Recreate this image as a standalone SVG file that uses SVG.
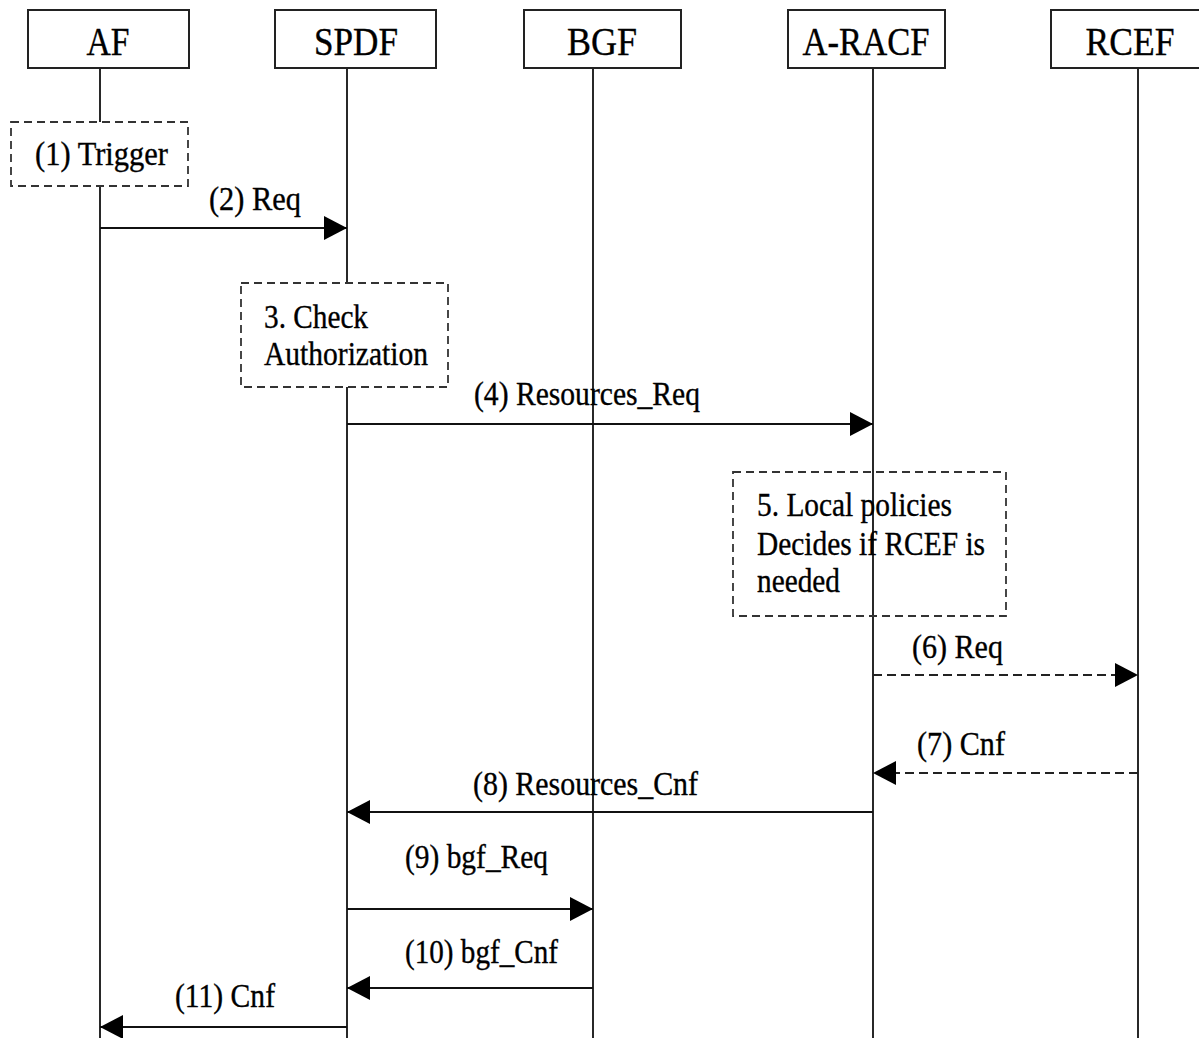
<svg xmlns="http://www.w3.org/2000/svg" width="1199" height="1038" viewBox="0 0 1199 1038">
<style>
text{font-family:"Liberation Serif","Times New Roman",serif;fill:#000;stroke:#000;stroke-width:0.35}
.title{font-size:39px;text-anchor:middle}
.lbl{font-size:33px}
.box{fill:#fff;stroke:#222;stroke-width:2}
.life{stroke:#111;stroke-width:1.8;fill:none}
.note{fill:#fff;stroke:#333;stroke-width:1.8;stroke-dasharray:8 5}
.note2{fill:none;stroke:#333;stroke-width:1.8;stroke-dasharray:8 5}
.msg{stroke:#111;stroke-width:2;fill:none}
.dash{stroke:#222;stroke-width:2.2;fill:none;stroke-dasharray:9 5}
</style>
<defs>
<marker id="ah" markerUnits="userSpaceOnUse" markerWidth="24" markerHeight="24" viewBox="0 0 24 24" refX="23" refY="12" orient="auto">
<path d="M0,0 L23,12 L0,24 Z" fill="#000"/>
</marker>
</defs>
<g id="lifelines">
<line class="life" x1="100" y1="68" x2="100" y2="1038"/>
<line class="life" x1="347" y1="68" x2="347" y2="1038"/>
<line class="life" x1="593" y1="68" x2="593" y2="1038"/>
<line class="life" x1="873" y1="68" x2="873" y2="1038"/>
<line class="life" x1="1138" y1="68" x2="1138" y2="1038"/>
</g>
<g id="AF"><rect class="box" x="28" y="10" width="161" height="58"/><text class="title" x="108" y="55" textLength="43" lengthAdjust="spacingAndGlyphs">AF</text></g>
<g id="SPDF"><rect class="box" x="275" y="10" width="161" height="58"/><text class="title" x="356" y="55" textLength="84" lengthAdjust="spacingAndGlyphs">SPDF</text></g>
<g id="BGF"><rect class="box" x="524" y="10" width="157" height="58"/><text class="title" x="602" y="55" textLength="70" lengthAdjust="spacingAndGlyphs">BGF</text></g>
<g id="A-RACF"><rect class="box" x="788" y="10" width="157" height="58"/><text class="title" x="866" y="55" textLength="127" lengthAdjust="spacingAndGlyphs">A-RACF</text></g>
<g id="RCEF"><rect class="box" x="1051" y="10" width="160" height="58"/><text class="title" x="1130" y="55" textLength="89" lengthAdjust="spacingAndGlyphs">RCEF</text></g>
<g id="trigger"><rect class="note" x="11" y="122" width="177" height="64"/><text class="lbl" x="35" y="165" textLength="133" lengthAdjust="spacingAndGlyphs">(1) Trigger</text></g>
<g id="check"><rect class="note" x="241" y="283" width="207" height="104"/><text class="lbl" x="264" y="328" textLength="104" lengthAdjust="spacingAndGlyphs">3. Check</text><text class="lbl" x="264" y="365" textLength="164" lengthAdjust="spacingAndGlyphs">Authorization</text></g>
<g id="local"><rect class="note2" x="733" y="472" width="273" height="144"/><text class="lbl" x="757" y="516" textLength="195" lengthAdjust="spacingAndGlyphs">5. Local policies</text><text class="lbl" x="757" y="555" textLength="228" lengthAdjust="spacingAndGlyphs">Decides if RCEF is</text><text class="lbl" x="757" y="592" textLength="83" lengthAdjust="spacingAndGlyphs">needed</text></g>
<g id="connectors">
<line class="msg" x1="100" y1="228" x2="347" y2="228" marker-end="url(#ah)"/>
<text class="lbl" x="209" y="210" textLength="92" lengthAdjust="spacingAndGlyphs">(2) Req</text>
<line class="msg" x1="347" y1="424" x2="873" y2="424" marker-end="url(#ah)"/>
<text class="lbl" x="474" y="405" textLength="226" lengthAdjust="spacingAndGlyphs">(4) Resources_Req</text>
<line class="dash" x1="873" y1="675" x2="1138" y2="675" marker-end="url(#ah)"/>
<text class="lbl" x="912" y="658" textLength="91" lengthAdjust="spacingAndGlyphs">(6) Req</text>
<line class="dash" x1="1138" y1="773" x2="873" y2="773" marker-end="url(#ah)"/>
<text class="lbl" x="917" y="755" textLength="88" lengthAdjust="spacingAndGlyphs">(7) Cnf</text>
<line class="msg" x1="873" y1="812" x2="347" y2="812" marker-end="url(#ah)"/>
<text class="lbl" x="473" y="795" textLength="225" lengthAdjust="spacingAndGlyphs">(8) Resources_Cnf</text>
<line class="msg" x1="347" y1="909" x2="593" y2="909" marker-end="url(#ah)"/>
<text class="lbl" x="405" y="868" textLength="143" lengthAdjust="spacingAndGlyphs">(9) bgf_Req</text>
<line class="msg" x1="593" y1="988" x2="347" y2="988" marker-end="url(#ah)"/>
<text class="lbl" x="405" y="963" textLength="153" lengthAdjust="spacingAndGlyphs">(10) bgf_Cnf</text>
<line class="msg" x1="347" y1="1027" x2="100" y2="1027" marker-end="url(#ah)"/>
<text class="lbl" x="175" y="1007" textLength="100" lengthAdjust="spacingAndGlyphs">(11) Cnf</text>
</g>
</svg>
